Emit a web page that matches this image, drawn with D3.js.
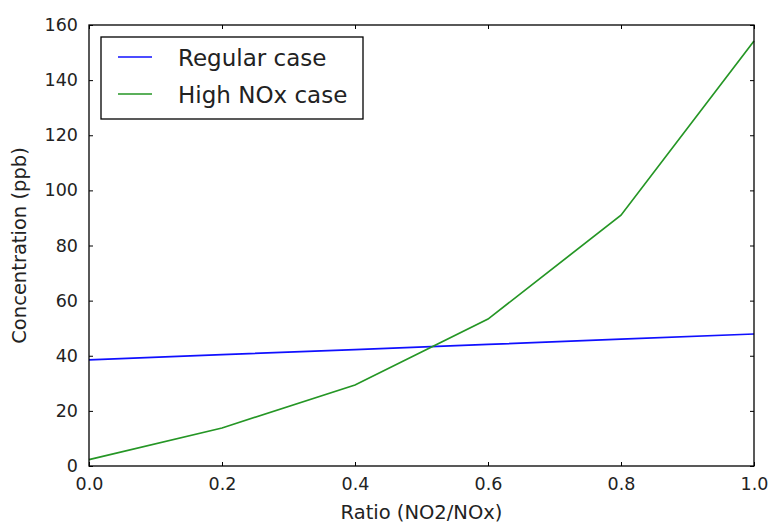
<!DOCTYPE html>
<html>
<head>
<meta charset="utf-8">
<script src="https://cdn.jsdelivr.net/npm/d3@7"></script>
<style>
  body { margin: 0; background: #fff; }
  text { font-family: "DejaVu Sans", sans-serif; fill: #222; }
</style>
</head>
<body>
<script>
'use strict';

// data
const ratios = [0.0, 0.2, 0.4, 0.6, 0.8, 1.0];
const regularCase = [38.5, 40.4, 42.2, 44.1, 46.0, 47.9];
const highNoxCase = [2.3, 13.8, 29.4, 53.3, 91.0, 154.2];
const seriesNames = ["Regular case", "High NOx case"];
const seriesColors = ["#1010ff", "#259625"];
const xTicks = [0.0, 0.2, 0.4, 0.6, 0.8, 1.0];
const yTicks = [0, 20, 40, 60, 80, 100, 120, 140, 160];

(function() {
  const width = 768, height = 525;
  const left = 89, right = 754, top = 25, bottom = 466;

  let svg = d3.select('body').append('svg')
    .attr('width', width)
    .attr('height', height);

  let xScale = d3.scaleLinear().domain([0, 1]).range([left, right]);
  let yScale = d3.scaleLinear().domain([0, 160]).range([bottom, top]);

  // inward ticks on all four sides, like matplotlib classic
  let tickFmtX = d3.format('.1f');
  svg.append('g')
    .attr('transform', `translate(0, ${bottom})`)
    .call(d3.axisBottom(xScale).tickValues(xTicks).tickFormat(tickFmtX).tickSizeInner(-4).tickSizeOuter(0).tickPadding(12))
    .call(g => g.select('.domain').remove())
    .call(g => g.selectAll('text').style('font-size', '17.5px').attr('fill', '#222'));
  svg.append('g')
    .attr('transform', `translate(0, ${top})`)
    .call(d3.axisTop(xScale).tickValues(xTicks).tickFormat('').tickSizeInner(-4).tickSizeOuter(0))
    .call(g => g.select('.domain').remove());
  svg.append('g')
    .attr('transform', `translate(${left}, 0)`)
    .call(d3.axisLeft(yScale).tickValues(yTicks).tickSizeInner(-4).tickSizeOuter(0).tickPadding(11))
    .call(g => g.select('.domain').remove())
    .call(g => g.selectAll('text').style('font-size', '17.5px').attr('fill', '#222'));
  svg.append('g')
    .attr('transform', `translate(${right}, 0)`)
    .call(d3.axisRight(yScale).tickValues(yTicks).tickFormat('').tickSizeInner(-4).tickSizeOuter(0))
    .call(g => g.select('.domain').remove());

  // lines
  let line = d3.line()
    .x((d, i) => xScale(ratios[i]))
    .y(d => yScale(d));

  [regularCase, highNoxCase].forEach((vals, i) => {
    svg.append('path')
      .datum(vals)
      .attr('d', line)
      .attr('fill', 'none')
      .attr('stroke', seriesColors[i])
      .attr('stroke-width', 1.7);
  });

  // frame
  svg.append('rect')
    .attr('x', left).attr('y', top)
    .attr('width', right - left).attr('height', bottom - top)
    .attr('fill', 'none')
    .attr('stroke', '#000')
    .attr('stroke-width', 1.3);

  // legend
  let legend = svg.append('g');
  legend.append('rect')
    .attr('x', 101).attr('y', 37)
    .attr('width', 262).attr('height', 82)
    .attr('fill', '#fff')
    .attr('stroke', '#000')
    .attr('stroke-width', 1.3);
  seriesNames.forEach((name, i) => {
    let y = 57 + i * 37;
    legend.append('line')
      .attr('x1', 118).attr('x2', 152)
      .attr('y1', y).attr('y2', y)
      .attr('stroke', seriesColors[i])
      .attr('stroke-width', 1.7);
    legend.append('text')
      .attr('x', 178).attr('y', y + 8.5)
      .style('font-size', '23px')
      .text(name);
  });

  // axis labels
  svg.append('text')
    .attr('x', (left + right) / 2)
    .attr('y', 519)
    .attr('text-anchor', 'middle')
    .style('font-size', '19.5px')
    .text('Ratio (NO2/NOx)');

  svg.append('text')
    .attr('transform', `translate(26, ${(top + bottom) / 2}) rotate(-90)`)
    .attr('text-anchor', 'middle')
    .style('font-size', '19.5px')
    .text('Concentration (ppb)');
})();
</script>
</body>
</html>
